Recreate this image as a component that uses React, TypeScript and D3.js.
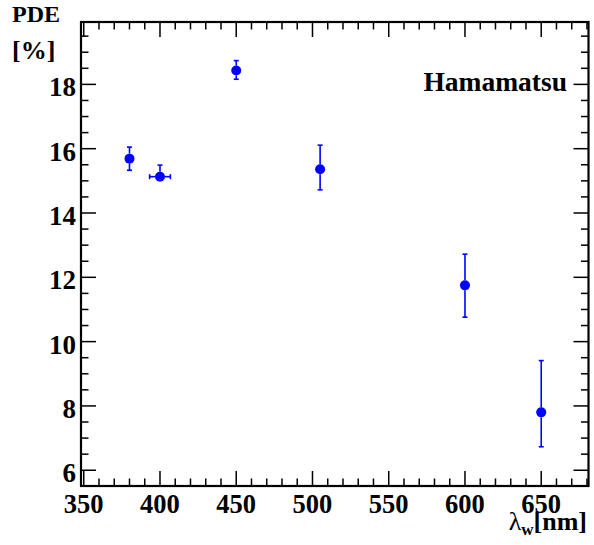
import * as d3 from "d3";
import React, {useRef, useEffect} from "react";

// wavelength [nm] and PDE [%] with asymmetric errors
const wavelengths = [380, 400, 450, 505, 600, 650];
const pde = [15.69, 15.13, 18.43, 15.36, 11.75, 7.8];
const errUp = [0.36, 0.36, 0.31, 0.75, 0.97, 1.61];
const errDown = [0.36, 0.0, 0.27, 0.64, 0.99, 1.07];
const errX = [0, 6.8, 0, 0, 0, 0];

const xTicks = [350, 400, 450, 500, 550, 600, 650];
const yTicks = [6, 8, 10, 12, 14, 16, 18];

function App() {

    const ref = useRef(null);

    useEffect(() => {
        const svg = d3.select(ref.current);
        svg.selectAll("*").remove();

        const left = 81, right = 588.5, top = 22, bottom = 486;
        const font = "'Liberation Serif', 'Times New Roman', serif";

        const x = d3.scaleLinear().domain([348.2, 681]).range([left, right]);
        const y = d3.scaleLinear().domain([5.51, 19.94]).range([bottom, top]);

        const frame = svg.append("g").attr("stroke", "#000").attr("fill", "none");

        // minor + major ticks on all four sides
        const xMinor = d3.range(350, 681, 10);
        xMinor.forEach(v => {
            const major = v % 50 === 0;
            const len = major ? 15 : 7.5;
            frame.append("line").attr("x1", x(v)).attr("x2", x(v))
                .attr("y1", bottom).attr("y2", bottom - len).attr("stroke-width", 1.5);
            frame.append("line").attr("x1", x(v)).attr("x2", x(v))
                .attr("y1", top).attr("y2", top + len).attr("stroke-width", 1.5);
        });
        const yMinor = d3.range(6, 19.9, 0.5);
        yMinor.forEach(v => {
            const major = Math.abs(v % 2) < 1e-6;
            const len = major ? 15 : 7.5;
            frame.append("line").attr("y1", y(v)).attr("y2", y(v))
                .attr("x1", left).attr("x2", left + len).attr("stroke-width", 1.5);
            frame.append("line").attr("y1", y(v)).attr("y2", y(v))
                .attr("x1", right).attr("x2", right - len).attr("stroke-width", 1.5);
        });

        frame.append("rect")
            .attr("x", left).attr("y", top)
            .attr("width", right - left).attr("height", bottom - top)
            .attr("stroke-width", 2.2);

        // tick labels
        svg.append("g").selectAll("text")
            .data(xTicks).enter().append("text")
            .attr("x", d => x(d)).attr("y", 512.5)
            .attr("text-anchor", "middle")
            .attr("font-family", font).attr("font-weight", "bold").attr("font-size", 26.5)
            .text(d => d);

        svg.append("g").selectAll("text")
            .data(yTicks).enter().append("text")
            .attr("x", 76).attr("y", d => y(d) + 12)
            .attr("text-anchor", "end")
            .attr("font-family", font).attr("font-weight", "bold").attr("font-size", 27)
            .text(d => d);

        // axis titles
        svg.append("text").attr("x", 12).attr("y", 21.5)
            .attr("font-family", font).attr("font-weight", "bold").attr("font-size", 24)
            .text("PDE");
        svg.append("text").attr("x", 12).attr("y", 59)
            .attr("font-family", font).attr("font-weight", "bold").attr("font-size", 26)
            .text("[%]");

        const xt = svg.append("text").attr("x", 587).attr("y", 530)
            .attr("text-anchor", "end")
            .attr("font-family", font).attr("font-weight", "bold").attr("font-size", 26);
        xt.append("tspan").attr("font-weight", "normal").attr("font-size", 26).text("λ");
        xt.append("tspan").attr("font-size", 17).attr("dy", 5).text("w");
        xt.append("tspan").attr("dy", -5).text("[nm]");

        svg.append("text").attr("x", 567).attr("y", 91)
            .attr("text-anchor", "end")
            .attr("font-family", font).attr("font-weight", "bold").attr("font-size", 27.5)
            .text("Hamamatsu");

        // error bars and markers
        const r = 5;
        const pts = wavelengths.map((w, i) => ({
            w, v: pde[i], up: errUp[i], dn: errDown[i], ex: errX[i]
        }));
        const eg = svg.append("g").attr("stroke", "#0000ff").attr("stroke-width", 1.6);
        pts.forEach(p => {
            const cx = x(p.w), cy = y(p.v);
            const segs = [];
            if (cy - y(p.v + p.up) > r) segs.push([cx, cy - r, cx, y(p.v + p.up), "v"]);
            if (y(p.v - p.dn) - cy > r) segs.push([cx, cy + r, cx, y(p.v - p.dn), "v"]);
            if (x(p.w + p.ex) - cx > r) {
                segs.push([cx + r, cy, x(p.w + p.ex), cy, "h"]);
                segs.push([cx - r, cy, x(p.w - p.ex), cy, "h"]);
            }
            segs.forEach(s => {
                eg.append("line").attr("x1", s[0]).attr("y1", s[1]).attr("x2", s[2]).attr("y2", s[3]);
                if (s[4] === "v") {
                    eg.append("line").attr("x1", s[2] - 2.5).attr("x2", s[2] + 2.5)
                        .attr("y1", s[3]).attr("y2", s[3]);
                } else {
                    eg.append("line").attr("x1", s[2]).attr("x2", s[2])
                        .attr("y1", s[3] - 2.5).attr("y2", s[3] + 2.5);
                }
            });
        });

        svg.append("g").selectAll("circle")
            .data(pts).enter().append("circle")
            .attr("cx", d => x(d.w)).attr("cy", d => y(d.v))
            .attr("r", r).attr("fill", "#0000ff");

    }, []);

    return (
        <svg ref={ref} width={594} height={545}
            style={{position: "absolute", left: 0, top: 0, background: "#fff"}} />
    );
}

export default App;
